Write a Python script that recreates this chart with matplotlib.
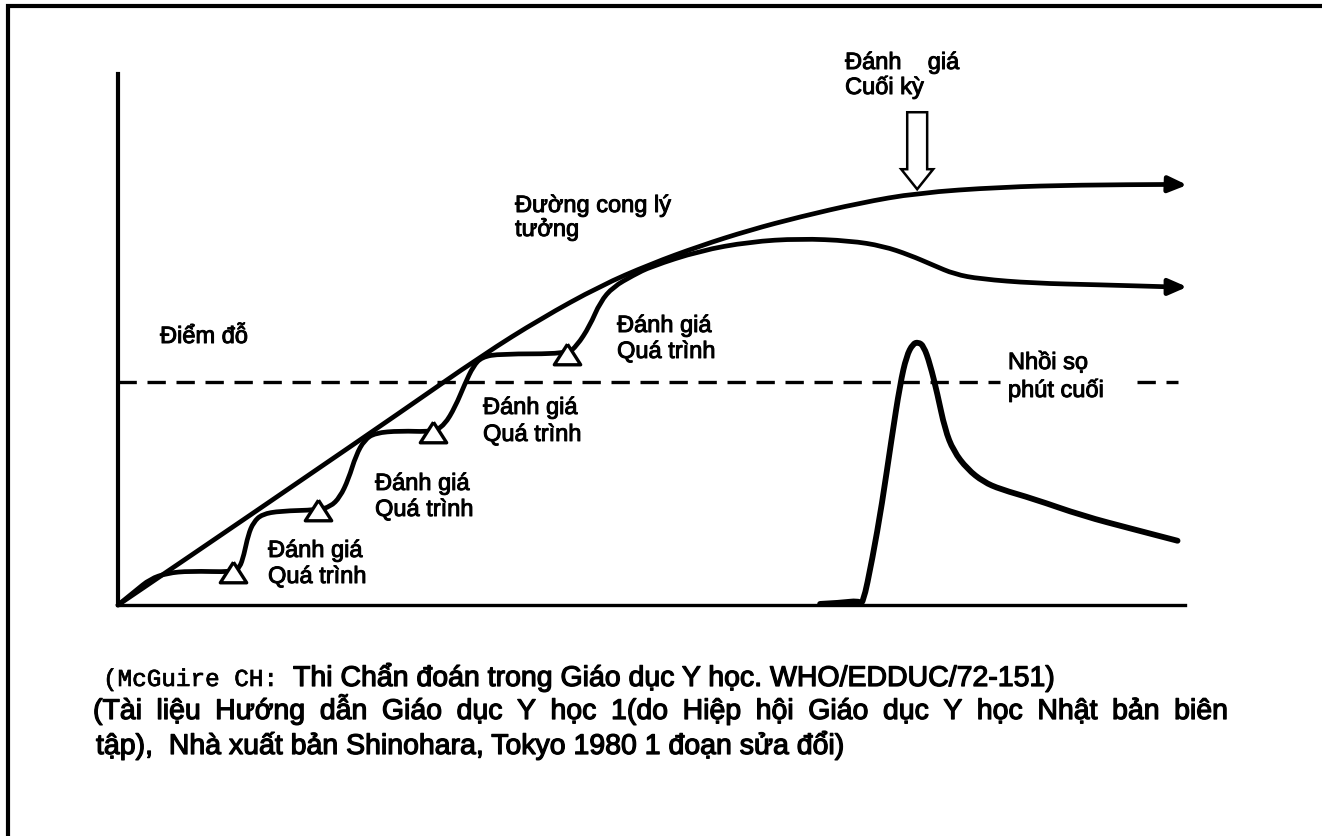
import matplotlib
matplotlib.use("Agg")
import matplotlib.pyplot as plt
import matplotlib.patches as mpatches
import matplotlib.transforms as mtransforms
import matplotlib.patheffects as pe
from matplotlib.lines import Line2D
from matplotlib.path import Path

W, H, DPI = 1322, 837, 100

# ---------------- data (chart units: time 0-100, score 0-100) ----------------
ideal_x = [0, 7.7, 17.1, 26.4, 34.2, 39.6, 45.2, 49.9, 54.5, 59.2, 63.9, 69.5,
           74.9, 82.7, 90.2, 98.8]
ideal_y = [0, 10.5, 23.4, 36.2, 47.1, 53.9, 60.1, 64.2, 67.6, 70.6, 73.1, 75.7,
           77.6, 78.7, 79.1, 79.2]
ideal_tip = (100.2, 79.1)

actual_x = [0, 1.6, 3.0, 4.6, 6.7, 10.8, 11.4, 11.8, 12.2, 12.7, 13.5, 15.2,
            18.7, 19.9, 20.8, 21.6, 22.3, 23.1, 24.1, 26.4, 29.5, 30.6, 31.6,
            32.5, 33.3, 34.1, 35.8, 42.1, 43.0, 44.2, 45.2, 46.4, 48.3, 49.9,
            54.5, 59.2, 63.9, 68.6, 71.7, 74.2, 76.4, 78.4, 80.8, 85.8, 92.0, 98.8]
actual_y = [0, 2.6, 4.9, 6.0, 6.4, 6.2, 7.0, 9.4, 13.2, 15.6, 17.1, 17.7,
            17.9, 18.5, 20.3, 23.7, 28.2, 31.1, 32.4, 32.8, 32.6, 33.9, 37.3,
            41.6, 45.0, 46.7, 47.3, 47.3, 48.8, 52.5, 57.1, 59.9, 62.1, 63.7,
            66.7, 68.4, 69.0, 68.6, 67.6, 65.9, 64.0, 62.3, 61.4, 60.6, 60.3, 59.9]
actual_tip = (100.2, 59.9)

formative_x = [10.8, 18.7, 29.5, 42.1]
formative_y = [6.2, 17.9, 32.6, 47.3]

cram_x = [65.8, 67.7, 69.4, 69.8, 70.7, 71.6, 72.5, 73.3, 73.9, 74.5, 75.0,
          75.5, 76.1, 76.8, 77.5, 78.3, 79.6, 81.1, 82.7, 85.8, 90.4, 95.1, 99.3]
cram_y = [0.2, 0.4, 0.8, 0.0, 8.7, 19.0, 31.3, 41.6, 46.9, 49.2, 49.5,
          48.8, 45.4, 39.7, 33.1, 29.0, 25.6, 23.2, 21.8, 20.0, 16.8, 14.3, 12.1]

pass_mark = 42.0
final_exam_x = 74.9

lbl_pass = "Điểm đỗ"
lbl_ideal = ["Đường cong lý", "tưởng"]
lbl_formative = ["Đánh giá", "Quá trình"]
lbl_final = ["Đánh    giá", "Cuối kỳ"]
lbl_cram = ["Nhồi sọ", "phút cuối"]
cap_mono = "(McGuire CH:"
cap_line1 = "Thi Chẩn đoán trong Giáo dục Y học. WHO/EDDUC/72-151)"
cap_line2 = ("(Tài liệu Hướng dẫn Giáo dục Y học 1(do Hiệp hội Giáo dục Y học "
             "Nhật bản biên")
cap_line3 = "tập),  Nhà xuất bản Shinohara, Tokyo 1980 1 đoạn sửa đổi)"

# ---------------- figure ----------------
SANS = "Liberation Sans"
fig = plt.figure(figsize=(W / DPI, H / DPI), dpi=DPI)
fig.patch.set_facecolor("white")
ax = fig.add_axes([118 / W, 1 - 606 / H, (1185 - 118) / W, (606 - 75) / H])
ax.set_xlim(0, 100)
ax.set_ylim(0, 100)
for s in ("top", "right"):
    ax.spines[s].set_visible(False)
ax.spines["left"].set_linewidth(3.0)
ax.spines["bottom"].set_linewidth(2.4)
ax.set_xticks([])
ax.set_yticks([])

LW = 3.4


def smooth_curve(xs, ys, lw):
    """Quadratic Bezier through midpoints of the read points (rounded corners)."""
    pts = list(zip(xs, ys))
    verts = [pts[0]]
    codes = [Path.MOVETO]
    for i in range(1, len(pts) - 1):
        mid = ((pts[i][0] + pts[i + 1][0]) / 2, (pts[i][1] + pts[i + 1][1]) / 2)
        verts += [pts[i], mid]
        codes += [Path.CURVE3, Path.CURVE3]
    verts.append(pts[-1])
    codes.append(Path.LINETO)
    patch = mpatches.PathPatch(Path(verts, codes), fill=False, ec="black", lw=lw,
                               capstyle="round", joinstyle="round", clip_on=False)
    ax.add_patch(patch)


# pass mark dashed line (interrupted by the cramming label)
dash = dict(color="black", lw=2.4, dashes=(5.5, 3.2), clip_on=False)
ax.plot([0, 82.7], [pass_mark, pass_mark], **dash)
ax.plot([95.5, 99.3], [pass_mark, pass_mark], **dash)

smooth_curve(ideal_x, ideal_y, LW)
smooth_curve(actual_x, actual_y, LW)
smooth_curve(cram_x, cram_y, LW + 0.8)

for (xs, ys, tip) in ((ideal_x, ideal_y, ideal_tip), (actual_x, actual_y, actual_tip)):
    ax.annotate("", xy=tip, xytext=(xs[-1], ys[-1]),
                arrowprops=dict(arrowstyle="-|>,head_length=0.55,head_width=0.24",
                                mutation_scale=20, lw=LW, color="black",
                                shrinkA=0, shrinkB=0), annotation_clip=False)

tri = [(0, 0.78), (-1, -0.78), (1, -0.78), (0, 0.78)]
ax.plot(formative_x, formative_y, linestyle="none", marker=tri, ms=19,
        mfc="white", mec="black", mew=2.4, clip_on=False, zorder=5)

# hollow arrow for final assessment
arr = mpatches.FancyArrow(final_exam_x, 92.8, 0, -(92.8 - 78.3), width=1.87,
                          head_width=3.0, head_length=3.77,
                          length_includes_head=True, fc="white", ec="black",
                          lw=1.8, clip_on=False, zorder=6)
ax.add_patch(arr)

bold_fx = [pe.withStroke(linewidth=0.7, foreground="black")]
FS = 17
tk = dict(fontsize=FS, family=SANS, color="black", va="baseline", ha="left",
          path_effects=bold_fx)
ax.text(3.94, 49.34, lbl_pass, **tk)
for xl, (y1, y2) in zip([14.06, 24.09, 34.21, 46.77],
                        [(9.04, 4.14), (21.66, 16.76), (35.97, 30.89), (51.41, 46.52)]):
    ax.text(xl, y1, lbl_formative[0], **tk)
    ax.text(xl, y2, lbl_formative[1], **tk)
ax.text(37.21, 74.01, lbl_ideal[0], **tk)
ax.text(37.21, 69.49, lbl_ideal[1], **tk)
ax.text(68.14, 100.94, lbl_final[0], **tk)
ax.text(68.14, 96.23, lbl_final[1], **tk)
ax.text(83.41, 44.44, lbl_cram[0], **tk)
ax.text(83.41, 39.17, lbl_cram[1], **tk)

# ---------------- caption (pixel positions from the top-left) ----------------
pix = mtransforms.Affine2D().scale(1, -1).translate(0, H)
CFS = 20.5
ck = dict(fontsize=CFS, family=SANS, color="black", va="baseline", ha="left",
          transform=pix, path_effects=[pe.withStroke(linewidth=0.9, foreground="black")])
fig.text(103, 687, cap_mono, fontsize=17.5, family="Liberation Mono",
         color="black", va="baseline", ha="left", transform=pix,
         path_effects=[pe.withStroke(linewidth=0.5, foreground="black")])
fig.text(293, 687, cap_line1, **ck)
fig.text(96, 755, cap_line3, **ck)

# justified second line
fig.canvas.draw()
renderer = fig.canvas.get_renderer()
words = cap_line2.split(" ")
left, right = 93, 1228
arts = [fig.text(0, 720, w_, **ck) for w_ in words]
widths = [a.get_window_extent(renderer).width for a in arts]
gap = (right - left - sum(widths)) / (len(words) - 1)
xpos = left
for a, wd in zip(arts, widths):
    a.set_x(xpos)
    xpos += wd + gap

# page border
fig.add_artist(Line2D([8 / W, 8 / W, 1], [0, 1 - 7 / H, 1 - 7 / H],
                      transform=fig.transFigure, color="black", lw=3,
                      solid_joinstyle="miter"))

fig.savefig("out.png", dpi=DPI, facecolor="white")
